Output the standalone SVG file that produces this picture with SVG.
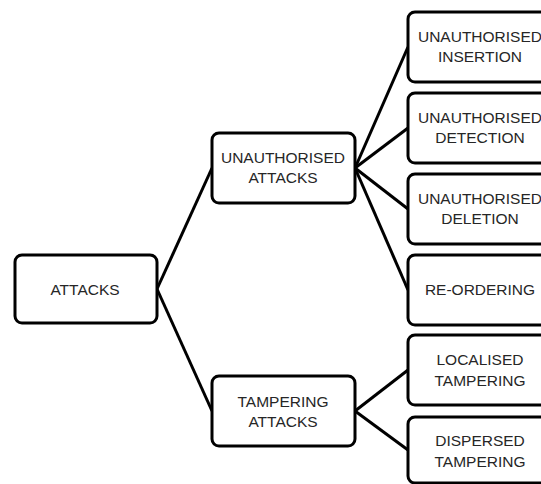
<svg xmlns="http://www.w3.org/2000/svg" width="541" height="484" viewBox="0 0 541 484">
<style>
.box{fill:#fff;stroke:#000;stroke-width:3}
.t{font-family:"Liberation Sans",Arial,sans-serif;font-size:15.5px;fill:#262626;text-anchor:middle;dominant-baseline:central}
.c line{stroke:#000;stroke-width:3}
</style>
<rect width="541" height="484" fill="#fff"/>
<g class="c" id="connectors">
<line x1="157" y1="289" x2="212" y2="168"/>
<line x1="157" y1="289" x2="212" y2="411"/>
<line x1="355" y1="168" x2="408" y2="47"/>
<line x1="355" y1="168" x2="408" y2="128"/>
<line x1="355" y1="168" x2="408" y2="209"/>
<line x1="355" y1="168" x2="408" y2="290"/>
<line x1="355" y1="411" x2="408" y2="370"/>
<line x1="355" y1="411" x2="408" y2="450"/>
</g>
<g id="attacks"><rect class="box" x="15" y="255" width="142" height="68" rx="7"/><text class="t" x="85" y="289">ATTACKS</text></g>
<g id="unauth"><rect class="box" x="212" y="133" width="143" height="70" rx="7"/><text class="t" x="283" y="157">UNAUTHORISED</text><text class="t" x="283" y="177">ATTACKS</text></g>
<g id="tamper"><rect class="box" x="212" y="376" width="143" height="70" rx="7"/><text class="t" x="283" y="401">TAMPERING</text><text class="t" x="283" y="421">ATTACKS</text></g>
<g id="insertion"><rect class="box" x="408" y="12" width="144" height="70" rx="7"/><text class="t" x="480" y="36">UNAUTHORISED</text><text class="t" x="480" y="56">INSERTION</text></g>
<g id="detection"><rect class="box" x="408" y="93" width="144" height="70" rx="7"/><text class="t" x="480" y="117">UNAUTHORISED</text><text class="t" x="480" y="137">DETECTION</text></g>
<g id="deletion"><rect class="box" x="408" y="174" width="144" height="70" rx="7"/><text class="t" x="480" y="198">UNAUTHORISED</text><text class="t" x="480" y="218">DELETION</text></g>
<g id="reorder"><rect class="box" x="408" y="255" width="144" height="70" rx="7"/><text class="t" x="480" y="289">RE-ORDERING</text></g>
<g id="localised"><rect class="box" x="408" y="335" width="144" height="70" rx="7"/><text class="t" x="480" y="359">LOCALISED</text><text class="t" x="480" y="380">TAMPERING</text></g>
<g id="dispersed"><rect class="box" x="408" y="417" width="144" height="66" rx="7"/><text class="t" x="480" y="440">DISPERSED</text><text class="t" x="480" y="461">TAMPERING</text></g>
</svg>
